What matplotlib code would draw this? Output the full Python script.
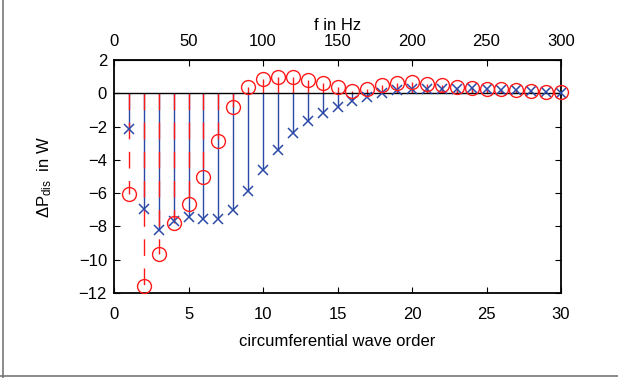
import numpy as np
import matplotlib
matplotlib.use("Agg")
import matplotlib.pyplot as plt
from matplotlib.lines import Line2D

plt.rcParams['font.family'] = ['Liberation Sans', 'DejaVu Sans']
plt.rcParams['mathtext.fontset'] = 'custom'
plt.rcParams['mathtext.rm'] = 'Liberation Sans'
plt.rcParams['mathtext.it'] = 'Liberation Sans'

# wave order and the two loss differences
order = np.arange(1, 31)
dp_circle = [-6.07, -11.6, -9.66, -7.78, -6.63, -5.03, -2.87, -0.84, 0.40, 0.88,
             1.00, 1.00, 0.78, 0.60, 0.36, 0.12, 0.28, 0.48, 0.62, 0.68,
             0.56, 0.48, 0.38, 0.32, 0.28, 0.24, 0.18, 0.14, 0.10, 0.06]
dp_cross = [-2.16, -6.93, -8.24, -7.67, -7.41, -7.55, -7.55, -6.99, -5.87, -4.61,
            -3.39, -2.40, -1.66, -1.16, -0.82, -0.46, -0.22, 0.00, 0.18, 0.28,
            0.26, 0.24, 0.28, 0.30, 0.24, 0.20, 0.18, 0.12, 0.08, 0.04]
xticks = [0, 5, 10, 15, 20, 25, 30]
yticks = [-12, -10, -8, -6, -4, -2, 0, 2]
fticks = [0, 50, 100, 150, 200, 250, 300]

red = '#ff1a1a'
blue = '#2b4aa8'

fig = plt.figure(figsize=(6.18, 3.78), dpi=100)
ax = fig.add_axes([0.1845, 0.2249, 0.7233, 0.6164])

# blue stems first, red dashed stems on top
ax.vlines(order, 0, dp_cross, colors=blue, linewidth=1.0, zorder=2)
ax.vlines(order, 0, dp_circle, colors=red, linewidth=1.0,
          linestyles=(0, (12, 9)), zorder=3)
ax.axhline(0, color='k', linewidth=1.0, zorder=4)
ax.plot(order, dp_cross, linestyle='none', marker='x', markersize=7,
        markeredgewidth=1.1, color=blue, zorder=5, clip_on=False)
ax.plot(order, dp_circle, linestyle='none', marker='o', markersize=10,
        markerfacecolor='none', markeredgewidth=1.0, markeredgecolor=red,
        zorder=6, clip_on=False)

ax.set_xlim(0, 30)
ax.set_ylim(-12, 2)
ax.set_xticks(xticks)
ax.set_yticks(yticks)
ax.tick_params(direction='in', length=4, width=0.8, labelsize=12,
               top=False, right=True, colors='k')
ax.tick_params(axis='x', pad=10)
ax.tick_params(axis='y', pad=5)
for s in ax.spines.values():
    s.set_linewidth(1.3)
ax.set_yticklabels(['\u2212' + str(-v) if v < 0 else str(v) for v in yticks])
ax.set_xlabel('circumferential wave order', fontsize=12, labelpad=9)
ax.set_ylabel(r'$\Delta\mathrm{P}_{\mathrm{dis}}$  in W', fontsize=12, labelpad=18)

top = ax.secondary_xaxis('top', functions=(lambda n: n * 10, lambda f: f / 10))
top.set_xticks(fticks)
top.tick_params(direction='in', length=4, width=0.8, labelsize=12, pad=8)
top.set_xlabel('f in Hz', fontsize=12, labelpad=3)

# grey frame around the picture (left and bottom edges)
fig.add_artist(Line2D([0.005, 0.005], [0.0, 1.0], color='#777777', linewidth=1.2,
                      transform=fig.transFigure))
fig.add_artist(Line2D([0.0, 1.0], [0.004, 0.004], color='#777777', linewidth=1.2,
                      transform=fig.transFigure))

fig.savefig('out.png', dpi=100)
